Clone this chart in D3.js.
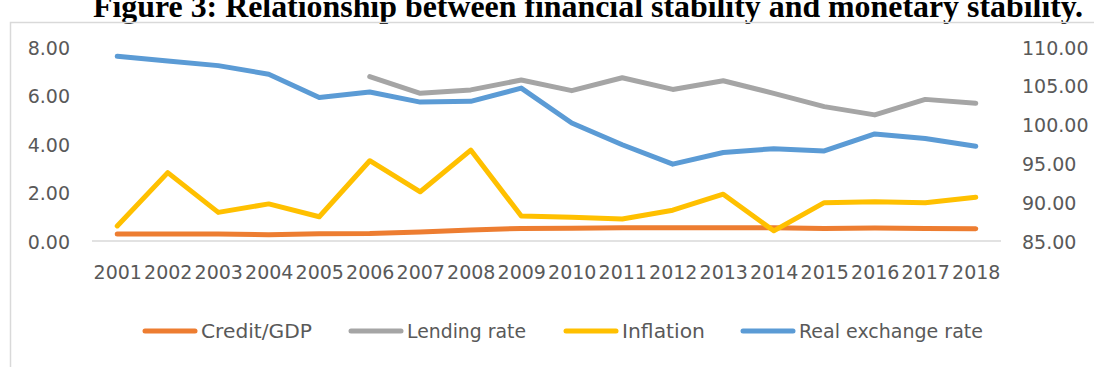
<!DOCTYPE html>
<html>
<head>
<meta charset="utf-8">
<script src="https://cdn.jsdelivr.net/npm/d3@7/dist/d3.min.js"></script>
<style>
  html, body { margin: 0; padding: 0; background: #ffffff; }
  svg { display: block; }
  .tick text { font-family: "DejaVu Sans", sans-serif; fill: #595959; }
</style>
</head>
<body>
<svg id="chart" width="1094" height="367"></svg>
<script>
// Years on the category axis
const years = ["2001","2002","2003","2004","2005","2006","2007","2008","2009",
               "2010","2011","2012","2013","2014","2015","2016","2017","2018"];

// Left-axis series (percent)
const creditGDP   = [0.29, 0.29, 0.29, 0.26, 0.30, 0.31, 0.37, 0.45, 0.52,
                     0.53, 0.55, 0.55, 0.55, 0.55, 0.52, 0.54, 0.52, 0.51];
const lendingRate = [null, null, null, null, null, 6.78, 6.09, 6.23, 6.64,
                     6.20, 6.73, 6.25, 6.61, 6.09, 5.54, 5.20, 5.84, 5.68];
const inflation   = [0.62, 2.82, 1.18, 1.53, 1.00, 3.31, 2.03, 3.75, 1.03,
                     0.98, 0.91, 1.27, 1.93, 0.42, 1.58, 1.62, 1.58, 1.80];

// Right-axis series (index)
const realExchangeRate = [108.8, 108.2, 107.6, 106.5, 103.5, 104.2, 102.9, 103.0, 104.7,
                          100.2, 97.4, 94.9, 96.4, 96.9, 96.6, 98.8, 98.2, 97.2];

// Axis ticks
const leftTicks  = [0, 2, 4, 6, 8];
const rightTicks = [85, 90, 95, 100, 105, 110];

const seriesNames = ["Credit/GDP", "Lending rate", "Inflation", "Real exchange rate"];
const seriesColors = ["#ED7D31", "#A5A5A5", "#FFC000", "#5B9BD5"];

const svg = d3.select("#chart");

// Title, partly clipped by the top edge of the page
svg.append("text")
  .attr("x", 93).attr("y", 17)
  .attr("textLength", 990).attr("lengthAdjust", "spacingAndGlyphs")
  .style("font-family", "'Liberation Serif', serif")
  .style("font-weight", "bold")
  .style("font-size", "32px")
  .style("fill", "#000")
  .text("Figure 3: Relationship between financial stability and monetary stability.");

// Chart frame
svg.append("rect")
  .attr("x", 10.5).attr("y", 22.5)
  .attr("width", 1200).attr("height", 400)
  .attr("fill", "none").attr("stroke", "#D9D9D9").attr("stroke-width", 1.5);

const x = d3.scalePoint().domain(years).range([92, 1001]).padding(0.5);
const yL = d3.scaleLinear().domain([0, 8]).range([241, 47]);
const yR = d3.scaleLinear().domain([85, 110]).range([241, 47]);

// Category axis baseline
svg.append("line")
  .attr("x1", 92).attr("x2", 1001)
  .attr("y1", yL(0)).attr("y2", yL(0))
  .attr("stroke", "#D9D9D9").attr("stroke-width", 1.5);

// Left value axis
const gL = svg.append("g").attr("transform", "translate(70,1)")
  .call(d3.axisLeft(yL).tickValues(leftTicks).tickFormat(d3.format(".2f")).tickSize(0).tickPadding(0));
gL.select(".domain").remove();
gL.selectAll("text").style("font-size", "19px");

// Right value axis
const gR = svg.append("g").attr("transform", "translate(1022,1)")
  .call(d3.axisRight(yR).tickValues(rightTicks).tickFormat(d3.format(".2f")).tickSize(0).tickPadding(0));
gR.select(".domain").remove();
gR.selectAll("text").style("font-size", "19px");

// Year labels
const gX = svg.append("g").attr("transform", "translate(0,265)")
  .call(d3.axisBottom(x).tickSize(0).tickPadding(0));
gX.select(".domain").remove();
gX.selectAll("text").style("font-size", "19px");

// Lines
function drawLine(values, yScale, color) {
  const line = d3.line()
    .defined(d => d != null)
    .x((d, i) => x(years[i]))
    .y(d => yScale(d));
  svg.append("path")
    .datum(values)
    .attr("d", line)
    .attr("fill", "none")
    .attr("stroke", color)
    .attr("stroke-width", 5)
    .attr("stroke-linecap", "round")
    .attr("stroke-linejoin", "round");
}
drawLine(creditGDP, yL, seriesColors[0]);
drawLine(lendingRate, yL, seriesColors[1]);
drawLine(inflation, yL, seriesColors[2]);
drawLine(realExchangeRate, yR, seriesColors[3]);

// Legend
const legendX = [143, 349, 564, 741];
const legendTextW = [111, 119, 83, 184];
const legendY = 331;
seriesNames.forEach((name, i) => {
  const g = svg.append("g").attr("transform", `translate(${legendX[i]},${legendY})`);
  g.append("line")
    .attr("x1", 2).attr("x2", 52).attr("y1", 0).attr("y2", 0)
    .attr("stroke", seriesColors[i]).attr("stroke-width", 5)
    .attr("stroke-linecap", "round");
  g.append("text")
    .attr("x", 58).attr("y", 0).attr("dy", "0.35em")
    .attr("textLength", legendTextW[i]).attr("lengthAdjust", "spacingAndGlyphs")
    .style("font-family", "'DejaVu Sans', sans-serif")
    .style("font-size", "19px")
    .style("fill", "#595959")
    .text(name);
});
</script>
</body>
</html>
